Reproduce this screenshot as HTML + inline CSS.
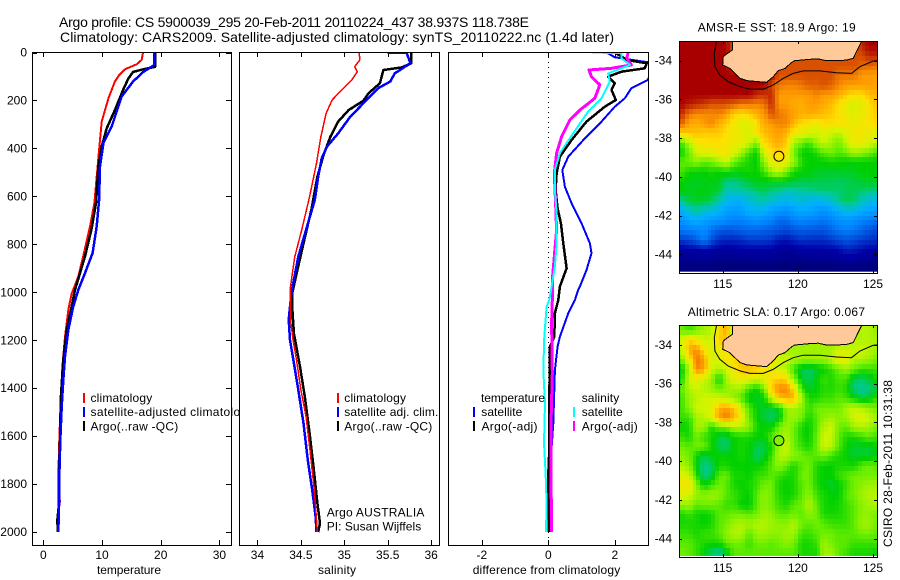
<!DOCTYPE html>
<html>
<head>
<meta charset="utf-8">
<title>Argo profile 5900039_295</title>
<style>
html,body{margin:0;padding:0;background:#fff;}
svg{display:block;}
text{font-family:"Liberation Sans",sans-serif;font-size:12px;fill:#000;}
.ttl{font-size:14px;}
.mt{font-size:12px;}
</style>
</head>
<body>
<svg id="chart" xmlns="http://www.w3.org/2000/svg" width="900" height="580" viewBox="0 0 900 580">
<defs>
<clipPath id="clip-temp"><rect x="32" y="52" width="199" height="493"/></clipPath>
<clipPath id="clip-sal"><rect x="239" y="52" width="200" height="493"/></clipPath>
<clipPath id="clip-diff"><rect x="448" y="52" width="200" height="493"/></clipPath>
<clipPath id="clip-map1"><rect x="679" y="41" width="198" height="232"/></clipPath>
<clipPath id="clip-map2"><rect x="679" y="325" width="198" height="232"/></clipPath>
</defs>
<rect x="0" y="0" width="900" height="580" fill="#fff"/>
<text class="ttl" x="59" y="27" textLength="470" lengthAdjust="spacing">Argo profile: CS 5900039_295 20-Feb-2011 20110224_437 38.937S 118.738E</text>
<text class="ttl" x="60" y="42" textLength="554" lengthAdjust="spacing">Climatology: CARS2009. Satellite-adjusted climatology: synTS_20110222.nc (1.4d later)</text>

<g id="panel-temp"></g>
<g>
<rect x="83" y="393" width="2" height="10" fill="#f00"/>
<rect x="83" y="407" width="2" height="10" fill="#00f"/>
<rect x="83" y="421" width="2" height="10" fill="#000"/>
<text x="90.5" y="402" textLength="61.7" lengthAdjust="spacing">climatology</text>
<text x="90.5" y="416" textLength="163" lengthAdjust="spacing">satellite-adjusted climatology</text>
<text x="90.5" y="430.5" textLength="87.7" lengthAdjust="spacing">Argo(..raw -QC)</text>
</g>
<text x="97" y="574" textLength="64" lengthAdjust="spacing">temperature</text>

<g id="panel-sal"></g>
<g>
<rect x="337" y="393" width="2" height="10" fill="#f00"/>
<rect x="337" y="407" width="2" height="10" fill="#00f"/>
<rect x="337" y="421" width="2" height="10" fill="#000"/>
<text x="344.3" y="402" textLength="61.7" lengthAdjust="spacing">climatology</text>
<text x="344.3" y="416" textLength="94" lengthAdjust="spacing">satellite adj. clim.</text>
<text x="344.3" y="430.5" textLength="88" lengthAdjust="spacing">Argo(..raw -QC)</text>
<text x="326.7" y="516.5" textLength="97.7" lengthAdjust="spacing">Argo AUSTRALIA</text>
<text x="326.7" y="530.5" textLength="94.5" lengthAdjust="spacing">PI: Susan Wijffels</text>
</g>
<text x="318" y="574" textLength="38" lengthAdjust="spacing">salinity</text>

<g id="panel-diff"></g>
<g>
<rect x="473" y="407" width="2" height="10" fill="#00f"/>
<rect x="473" y="421" width="2" height="10" fill="#000"/>
<rect x="573" y="407" width="2" height="10" fill="#0ff"/>
<rect x="573" y="421" width="2" height="10" fill="#f0f"/>
<text x="481" y="402" textLength="64" lengthAdjust="spacing">temperature</text>
<text x="481.3" y="416" textLength="41" lengthAdjust="spacing">satellite</text>
<text x="481.5" y="430.5" textLength="56" lengthAdjust="spacing">Argo(-adj)</text>
<text x="581.7" y="402" textLength="37.5" lengthAdjust="spacing">salinity</text>
<text x="581.7" y="416" textLength="41" lengthAdjust="spacing">satellite</text>
<text x="581.7" y="430.5" textLength="56" lengthAdjust="spacing">Argo(-adj)</text>
</g>
<text x="472.7" y="574" textLength="147.5" lengthAdjust="spacing">difference from climatology</text>

<text class="mt" x="697.7" y="31.5" textLength="158" lengthAdjust="spacing">AMSR-E SST: 18.9 Argo: 19</text>
<g id="map-sst"></g>
<text class="mt" x="687.7" y="316" textLength="177.3" lengthAdjust="spacing">Altimetric SLA: 0.17 Argo: 0.067</text>
<g id="map-sla"></g>
<text transform="translate(892 547) rotate(-90)" textLength="167" lengthAdjust="spacing">CSIRO 28-Feb-2011 10:31:38</text>
</svg>

<script>
// ---------- profile data ----------
const depthTicks = [0,200,400,600,800,1000,1200,1400,1600,1800,2000];
const tempTicks = [0,10,20,30];
const salTicks = [34,34.5,35,35.5,36];
const salTickLabels = ['34','34.5','35','35.5','36'];
const diffTicks = [-2,0,2];

const tempClimDepth = [0,31,49,70,93,121,190,288,392,517,628,725,850,934,990,1004,1074,1185,1310,1449,1616,1769,1860,1870,1949,2000];
const tempClimValue = [16.98,16.76,15.9,13.9,12.96,12.2,11.1,9.95,9.55,9.1,8.7,7.96,6.8,5.96,5.1,4.83,4.26,3.7,3.25,2.96,2.73,2.56,2.56,2.84,2.4,2.56];
const tempSatDepth = [0,53,81,121,183,308,378,475,614,725,836,920,990,1004,1060,1157,1268,1365,1477,1616,1769,1894,2000];
const tempSatValue = [18.86,18.86,17.04,15.3,13.35,11.65,10.24,9.66,9.5,9.1,8.4,7.1,5.96,5.8,5.1,4.26,3.7,3.4,3.13,2.9,2.73,2.67,2.56];
const tempArgoDepth = [0,60,70,81,108,156,240,316,392,475,628,739,850,990,1074,1157,1281,1435,1616,1769,1894,1949,2000];
const tempArgoValue = [19.03,19.03,17.04,15.3,14.5,13.6,12.2,10.8,9.95,9.38,8.98,8.2,7.1,5.4,4.7,3.98,3.4,3.0,2.84,2.62,2.62,2.4,2.45];

const salClimDepth = [0,31,59,80,115,156,198,254,351,462,601,740,851,990,1004,1129,1199,1282,1407,1519,1658,1824,2000];
const salClimValue = [35.17,35.18,35.12,35.15,35.085,34.97,34.86,34.79,34.73,34.68,34.6,34.51,34.43,34.375,34.375,34.385,34.41,34.45,34.5,34.56,34.605,34.655,34.69];
const salSatDepth = [1,2,45,87,121,149,212,267,337,393,441,518,615,726,851,1004,1115,1199,1295,1407,1546,1700,1824,1935,2000];
const salSatValue = [35.5,35.72,35.76,35.58,35.53,35.39,35.22,35.07,34.93,34.8,34.74,34.7,34.66,34.57,34.47,34.39,34.36,34.375,34.42,34.47,34.53,34.58,34.63,34.67,34.68];
const salArgoDepth = [0,45,62,73,128,170,201,240,288,351,428,518,657,796,907,1004,1060,1171,1310,1435,1588,1727,1880,1963,2000];
const salArgoValue = [35.77,35.77,35.66,35.45,35.41,35.28,35.22,35.05,34.93,34.84,34.76,34.69,34.62,34.53,34.46,34.4,34.4,34.42,34.49,34.545,34.6,34.645,34.69,34.72,34.7];

const diffTempSatDepth = [0,20,45,115,149,191,226,288,358,434,490,560,629,712,796,837,907,976,990,1032,1087,1185,1226,1324,1546,1686,1824,2000];
const diffTempSatValue = [1.75,2.0,3.2,2.99,2.5,2.3,2.0,1.6,1.1,0.6,0.42,0.5,0.7,1.0,1.25,1.3,1.15,0.95,0.9,0.8,0.6,0.35,0.28,0.2,0.15,0.08,0.02,0.05];
const diffTempArgoDepth = [0,31,45,66,80,101,128,156,198,226,288,365,434,504,573,650,712,796,900,976,1032,1087,1185,1226,1546,1686,1839,2000];
const diffTempArgoValue = [2.0,2.36,2.96,2.9,2.2,1.8,2.0,1.9,2.03,1.7,1.15,0.7,0.35,0.25,0.22,0.28,0.38,0.45,0.55,0.35,0.3,0.2,0.18,0.05,0.02,0.02,-0.02,0.02];
const diffSalSatDepth = [0,3,24,52,87,121,191,246,337,420,490,573,671,796,893,990,1032,1060,1185,1324,1463,1630,1755,1880,2000];
const diffSalSatValue = [1.32,2.2,2.2,2.46,1.8,1.85,1.6,1.2,0.75,0.35,0.2,0.2,0.25,0.25,0.2,0.08,0.03,-0.05,-0.12,-0.15,-0.1,-0.13,-0.08,-0.05,-0.07];
const diffSalArgoDepth = [0,24,52,66,73,101,135,191,240,281,351,420,504,629,740,851,948,1032,1129,1338,1546,1755,2000];
const diffSalArgoValue = [2.4,2.36,2.5,1.9,1.22,1.3,1.55,1.4,0.95,0.65,0.4,0.25,0.18,0.22,0.25,0.18,0.12,0.12,0.1,0.12,0.08,0.08,0.1];

// ---------- map data (0.5 degree cells) ----------
const mapLonCenters = [112.25,112.75,113.25,113.75,114.25,114.75,115.25,115.75,116.25,116.75,117.25,117.75,118.25,118.75,119.25,119.75,120.25,120.75,121.25,121.75,122.25,122.75,123.25,123.75,124.25,124.75,125.25];
const mapLatCenters = [33.25,33.75,34.25,34.75,35.25,35.75,36.25,36.75,37.25,37.75,38.25,38.75,39.25,39.75,40.25,40.75,41.25,41.75,42.25,42.75,43.25,43.75,44.25,44.75];
const lonTicks = [115,120,125];
const latTicks = [34,36,38,40,42,44];
const argoLon = 118.74;
const argoLat = 38.94;
const argoSst = 19;
const argoSlaCm = 6.7;

const sstRows = [
[22,22,22,22,22,22,22,21,21,21,21,21,21,21,21,21,21,21,21,21,21,21,21,21,21.5,22,22],
[22,22,22,22,22,22,22,21,21,21,21,21,21,21,21,21,21,21,21,21,21,21,21,21,21,21.5,21.5],
[22,22,22,22,22,22,22,21,21,21,21,21,21,21,21,21,21,21,21,21,21,21,21,21,20.7,20.7,20.5],
[22,22,22,22,22,22,22,22,22,22,22,22,22,21,21,21,21,21,21,21,21,20.5,20.5,20.5,20,20,20],
[22,22,22,22,22,22,22,22,22,22,22,22,21,20.5,20.3,20.3,20.5,20.8,20.8,21,20.7,20.3,20,20,20,20,20],
[22,22,22,22,22,22,22,22,22,22,21.5,21.3,21.5,20,20,20,20,20,20.3,20,20,19.7,19.3,19,19,19.5,19.7],
[22,21.7,21.5,21.3,21,21,21,20.8,20.5,20.5,20.3,20.5,21.5,20,20,19.8,19.7,20,20,19.8,19.5,19,18.4,18.2,18.3,19,19.5],
[21.5,20.5,20.2,20.2,20.2,20.3,20,19.2,19,19.3,19.7,20,21,20.5,20.2,20,19.7,19.8,19.7,19.5,19.3,19,18.5,18.3,18.5,19,19.3],
[20.8,19.8,19.7,20,20.3,19.7,19.3,18.8,18.3,18.2,19,19.8,20,20.3,20.3,19.6,19,18.8,18.5,19,19,19,18.8,18.5,18.7,19,19],
[19.2,19.5,19.5,19.3,19.3,19.3,19,18.7,18.4,18.2,19,19.5,19.8,20,19.6,18.8,18.4,18.3,18,18.3,17.9,17.8,18.2,18.7,18.8,18.5,18.3],
[16.5,17.7,18.7,18.9,19,19,18.8,18.7,18.5,18,17,19,19.5,19.8,19.2,17.5,17,16.5,17.5,17.9,17.5,17,18,18.5,18.5,18.2,17.7],
[16,17,18,18.3,18.3,18.7,18.7,18.2,17.5,16.5,16,18,19,19.3,18.8,17,16,16,16.3,16.8,17,16.7,17,17.5,17.3,17,16.5],
[16.8,17,17.3,16.9,17,17.5,18,17,16.5,16.2,16,17.3,18.5,18.7,18.3,17.5,16.3,16,16,16,16.2,16.1,16,16,16,16,16],
[16.7,16.1,16,16,16.2,16,16.2,16,16,16.2,16,16.5,17.5,17.8,17,16.2,16,16,15.8,15.8,15.7,15.8,15.8,15.8,16,16,16],
[16,15.8,15.8,15.8,15.9,15.8,15.2,15.2,15.4,15.7,15.9,15.8,15.8,15.8,15.8,15.7,15.5,15.6,15.5,15.5,15.5,15.4,15.5,15.6,15.7,15.8,15.8],
[16,15.8,15.9,16,15.8,15.7,14.7,14.8,14.9,15,15.3,15.5,15.2,15,14.7,14.7,15,15,15.2,15.3,15.3,15.3,15.5,15.5,15.3,15.2,15],
[15,15.7,15.7,15.7,15.5,14.7,14.3,14,14,14.4,14.7,14.8,14.5,14.2,14.1,14.3,14.4,14.2,14.1,14.2,14.5,15.2,15.5,15.4,14.8,14.3,14.2],
[13.9,14.5,15,14.5,14.3,14,13.6,13.5,13.6,14,14.1,14,13.6,13.4,13.2,13.6,13.8,13.8,13.5,13.3,13.6,14,14.3,14.2,13.9,13.7,13.6],
[13.3,13.8,14,13.7,13.5,13.4,13.2,13,13,13.2,13.4,13.2,13,12.6,12.6,13,13.1,13,12.9,12.8,13,13.3,13.4,13.3,13,12.9,12.7],
[12.8,12.9,13,13.2,12.7,12.3,12.2,12.3,12.4,12.5,12.5,12.4,12.3,12.2,12,12.2,12.3,12.3,12.2,12.2,12.5,12.8,12.9,12.8,12.5,12.2,12],
[11.8,12,12.3,12.9,12.2,11.6,11.5,11.5,11.6,11.8,11.8,11.8,11.7,11.3,11.2,11.5,11.7,11.6,11.6,11.6,11.8,12,12.2,12,11.8,11.7,11.6],
[10.8,11,11,11.2,11,10.9,10.8,10.9,11,11,11,11,11,10.8,10.7,10.8,10.9,11,11,11,11,11.2,11.5,11.4,11.2,11,11],
[10.5,10.5,10.5,10.6,10.5,10.4,10.4,10.4,10.5,10.5,10.5,10.5,10.5,10.4,10.4,10.4,10.4,10.5,10.5,10.5,10.5,10.6,10.8,10.8,10.6,10.5,10.5],
[10.1,10.1,10.1,10.1,10.1,10,10,10,10,10,10,10,10,10,10,10,10,10,10,10,10,10.1,10.1,10.1,10.1,10.1,10.1]
];

const slaCmRows = [
[5,0,5,10,12,25,35,10,10,10,10,10,10,10,10,10,10,10,10,10,10,10,10,10,12,12,8],
[15,28,22,15,15,28,30,10,10,10,10,10,10,10,10,10,10,10,10,10,10,10,10,12,12,12,10],
[12,33,38,25,15,22,25,10,10,10,10,10,10,10,10,10,10,10,10,10,10,15,14,14,15,12,10],
[5,22,40,35,15,18,22,28,28,20,20,20,20,15,15,12,10,10,10,10,15,22,20,12,12,10,5],
[-8,12,38,35,15,12,14,22,30,32,30,25,20,15,10,0,-10,-12,-8,-5,0,5,10,5,0,0,0],
[-5,15,20,15,10,-5,10,18,20,18,15,18,25,28,25,8,-8,-10,-5,0,-3,2,0,-10,-12,-8,-3],
[3,12,15,12,10,5,8,10,10,0,-5,5,28,38,38,25,0,-8,-5,-2,-2,0,-3,-12,-15,-13,-8],
[0,10,12,15,15,15,12,8,3,-6,-8,-5,15,30,33,33,10,-3,-3,0,0,3,0,-5,-10,-8,0],
[0,8,15,15,18,32,35,30,15,2,-5,-8,-8,-5,10,10,8,0,5,5,5,5,12,14,12,8,5],
[0,0,10,12,18,35,40,32,20,5,-5,-8,-12,-8,8,10,5,-3,3,8,10,8,10,15,18,15,10],
[-5,-3,10,10,-3,5,5,12,12,8,-3,-5,-5,5,10,5,-3,-5,3,12,15,5,3,10,12,10,5],
[0,-3,5,0,-3,-10,-10,-5,-3,-3,-5,-5,3,8,12,5,-3,-5,5,15,14,3,-3,-3,0,3,0],
[5,3,5,5,-3,-10,-12,-5,-3,-5,-10,-10,-3,10,15,5,0,-3,5,15,12,2,-5,-8,-8,-8,-5],
[8,5,-3,-10,-5,-5,-5,-5,-3,-5,-12,-8,0,12,12,8,5,3,3,5,0,-3,-5,-8,-8,-8,-5],
[12,8,-5,-14,-12,-3,-3,-5,-5,-5,-5,-3,3,8,3,-3,3,5,-3,-5,-5,-3,-3,-3,3,5,3],
[18,15,0,-14,-10,3,5,-3,-3,-5,0,0,3,0,-3,-3,5,5,-3,-5,-5,0,3,5,5,5,5],
[22,22,8,-5,0,5,3,-3,-5,-3,0,5,5,-3,-5,-3,3,5,-3,-5,-8,-5,0,5,8,10,10],
[18,15,10,8,10,8,3,0,-3,-5,3,8,5,-2,-5,-3,3,8,0,-3,-5,-5,3,5,10,12,12],
[8,10,3,5,5,3,0,0,-5,-6,3,8,5,0,-3,3,5,12,3,-3,-5,-3,0,3,8,10,12],
[-3,0,-3,-5,-3,3,3,5,5,3,5,10,8,3,3,5,3,8,5,-3,-3,-3,0,3,8,8,5],
[-3,-3,-3,-5,-3,3,5,10,12,10,12,12,10,8,8,12,5,3,5,3,0,0,0,3,10,10,5],
[0,0,-3,0,0,3,8,12,12,3,10,10,8,8,10,10,0,0,3,5,5,3,3,3,5,5,3],
[3,3,0,-3,-3,-3,3,5,5,0,5,5,3,5,8,5,-3,-3,0,10,5,3,3,0,0,0,0],
[5,3,0,-5,-12,-15,-8,3,3,3,3,3,3,3,3,3,-3,-3,-3,10,10,3,0,-3,-3,-3,-5]
];

const coastLon = [115.64,115.64,115.26,115.04,115.0,115.48,115.81,116.15,116.6,117.47,117.92,118.36,118.7,119.14,119.58,119.8,120.8,121.35,121.9,122.57,123.24,123.68,123.9,124.24];
const coastLat = [33,33.45,33.66,33.79,34.22,34.4,34.66,34.91,35.03,35.09,35.12,34.83,34.52,34.4,34.1,34.0,33.93,33.91,34.0,34.0,33.97,33.88,33.53,33];
const shelfLon = [114.59,114.44,114.48,114.81,115.37,116.15,116.81,117.7,118.36,119.03,119.69,120.36,121.47,122.57,123.57,124.13,125.01,125.28];
const shelfLat = [33,33.62,34.31,34.74,35.09,35.34,35.47,35.47,35.26,34.91,34.66,34.53,34.53,34.62,34.66,34.31,34.02,34.0];

// ---------- colour scale ----------
const paletteStops = ['#000078','#0000a8','#0048d8','#0084ff','#00b0ff','#00c8a0','#00d000','#70f000','#d0f500','#ffe000','#ff9c00','#d85000','#a80000'];
const paletteBase = 10;

const NS = 'http://www.w3.org/2000/svg';
function hex(c){return [parseInt(c.slice(1,3),16),parseInt(c.slice(3,5),16),parseInt(c.slice(5,7),16)];}
function paletteColor(level){
  let t = Math.max(0, Math.min(paletteStops.length-1.001, level-paletteBase));
  const i = Math.floor(t), f = t-i;
  const a = hex(paletteStops[i]), b = hex(paletteStops[i+1]);
  return 'rgb('+[0,1,2].map(k=>Math.round(a[k]+(b[k]-a[k])*f)).join(',')+')';
}
function sstLevel(v){return v;}
function slaLevel(cm){return 16.5+cm/10;}

function make(parent,tag,attrs,txt){
  const e=document.createElementNS(NS,tag);
  for(const k in attrs){e.setAttribute(k,attrs[k]);}
  if(txt!==undefined){e.textContent=txt;}
  parent.appendChild(e);
  return e;
}

// ---------- axis scales ----------
const depthY = d => 52.5 + d*0.2398;
const tempX = t => 43.3 + t*5.87;
const salX = s => 344.3 + (s-35)*86.85;
const diffX = v => 548.3 + v*33.25;
const mapX = lon => 722.7 + (lon-115)*15.03;
const map1Y = lat => 41.3 + (lat-33)*19.36;
const map2Y = lat => 325.6 + (lat-33)*19.36;

function drawProfile(g,clipId,xs,depths,values,color,width,name){
  const pts=depths.map((d,i)=>xs(values[i]).toFixed(1)+','+depthY(d).toFixed(1)).join(' ');
  const p=make(g,'polyline',{points:pts,fill:'none',stroke:color,'stroke-width':width,'clip-path':'url(#'+clipId+')','shape-rendering':'crispEdges','stroke-linejoin':'round'});
  
  
}

function drawFrame(g,x0,x1,y0,y1,xs,ticks,labels){
  const bg=make(g,'rect',{x:x0,y:y0,width:x1-x0,height:y1-y0,fill:'#fff'});
  
  
  ticks.forEach((t,i)=>{
    const x=Math.round(xs(t))+0.5;
    const a=make(g,'line',{x1:x,x2:x,y1:y0,y2:y0+5,stroke:'#000','stroke-width':1});
    
    
    const b=make(g,'line',{x1:x,x2:x,y1:y1,y2:y1-5,stroke:'#000','stroke-width':1});
    
    
    const l=make(g,'text',{x:xs(t),y:559,'text-anchor':'middle'},labels[i]);
    
    
  });
}
function drawBorder(g,x0,x1,y0,y1){
  const r=make(g,'rect',{x:x0+0.5,y:y0+0.5,width:x1-x0,height:y1-y0,fill:'none',stroke:'#000','stroke-width':1,'shape-rendering':'crispEdges'});
  
  
}

// ---------- temperature panel ----------
const gT=document.getElementById('panel-temp');
drawFrame(gT,32,231,52,545,tempX,tempTicks,tempTicks.map(String));
depthTicks.forEach(d=>{
  const y=Math.round(depthY(d))+0.5;
  const a=make(gT,'line',{x1:32,x2:37,y1:y,y2:y,stroke:'#000','stroke-width':1});
  
  
  const b=make(gT,'line',{x1:231,x2:226,y1:y,y2:y,stroke:'#000','stroke-width':1});
  
  
  const l=make(gT,'text',{x:27,y:depthY(d)+4,'text-anchor':'end'},String(d));
  
  
});
drawProfile(gT,'clip-temp',tempX,tempClimDepth,tempClimValue,'#f00',2,'temperature-climatology-line');
drawProfile(gT,'clip-temp',tempX,tempArgoDepth,tempArgoValue,'#000',2.5,'temperature-argo-line');
drawProfile(gT,'clip-temp',tempX,tempSatDepth,tempSatValue,'#00f',2.5,'temperature-satellite-line');
drawBorder(gT,32,231,52,545);

// ---------- salinity panel ----------
const gS=document.getElementById('panel-sal');
drawFrame(gS,239,439,52,545,salX,salTicks,salTickLabels);
drawProfile(gS,'clip-sal',salX,salArgoDepth,salArgoValue,'#000',2.5,'salinity-argo-line');
drawProfile(gS,'clip-sal',salX,salSatDepth,salSatValue,'#00f',2.5,'salinity-satellite-line');
drawProfile(gS,'clip-sal',salX,salClimDepth,salClimValue,'#f00',1.5,'salinity-climatology-line');
drawBorder(gS,239,439,52,545);

// ---------- difference panel ----------
const gD=document.getElementById('panel-diff');
drawFrame(gD,448,648,52,545,diffX,diffTicks,diffTicks.map(String));
const zeroLine=make(gD,'line',{x1:diffX(0),x2:diffX(0),y1:52,y2:545,stroke:'#000','stroke-width':1,'stroke-dasharray':'1 4','shape-rendering':'crispEdges'});


drawProfile(gD,'clip-diff',diffX,diffTempSatDepth,diffTempSatValue,'#00f',2,'difference-temperature-satellite-line');
drawProfile(gD,'clip-diff',diffX,diffTempArgoDepth,diffTempArgoValue,'#000',2.5,'difference-temperature-argo-line');
drawProfile(gD,'clip-diff',diffX,diffSalArgoDepth,diffSalArgoValue,'#f0f',3,'difference-salinity-argo-line');
drawProfile(gD,'clip-diff',diffX,diffSalSatDepth,diffSalSatValue,'#0ff',2,'difference-salinity-satellite-line');
drawBorder(gD,448,648,52,545);

// ---------- maps ----------
// Each half-degree value is shaded over a quarter-degree pixel block, like the source's smoothed field.
function shadeAt(rows,rf,cf){
  const r=Math.max(0,Math.min(rows.length-1,rf)), c=Math.max(0,Math.min(rows[0].length-1,cf));
  const r0=Math.floor(r), c0=Math.floor(c);
  const r1=Math.min(rows.length-1,r0+1), c1=Math.min(rows[0].length-1,c0+1);
  const fr=r-r0, fc=c-c0;
  return (rows[r0][c0]*(1-fc)+rows[r0][c1]*fc)*(1-fr)+(rows[r1][c0]*(1-fc)+rows[r1][c1]*fc)*fr;
}
function drawMap(g,ys,rows,levelFn,argoValue,x0,x1,y0,y1,clipId,prefix){
  rows.forEach((row,r)=>{
    row.forEach((v,c)=>{
      [0,1].forEach(sr=>{
        [0,1].forEach(sc=>{
          const lat0=mapLatCenters[r]-0.25+sr*0.25, lon0=mapLonCenters[c]-0.25+sc*0.25;
          const top=Math.round(ys(lat0)), bot=Math.round(ys(lat0+0.25));
          const l=Math.round(mapX(lon0)), rr=Math.round(mapX(lon0+0.25));
          const shade=shadeAt(rows,r+(sr-0.5)*0.5,c+(sc-0.5)*0.5);
          const cell=make(g,'rect',{x:l,y:top,width:rr-l,height:bot-top,fill:paletteColor(levelFn(shade)),'clip-path':'url(#'+clipId+')','shape-rendering':'crispEdges'});
          
          
        });
      });
    });
  });
  const strip=make(g,'rect',{x:x0,y:ys(44.9),width:x1-x0,height:y1-ys(44.9)+1,fill:'#fff'});
  
  
  const land=make(g,'polygon',{points:coastLon.map((lon,i)=>mapX(lon).toFixed(1)+','+ys(coastLat[i]).toFixed(1)).join(' '),fill:'#ffc999','clip-path':'url(#'+clipId+')'});
  
  
  const coast=make(g,'polyline',{points:coastLon.map((lon,i)=>mapX(lon).toFixed(1)+','+ys(coastLat[i]).toFixed(1)).join(' '),fill:'none',stroke:'#000','stroke-width':1,'clip-path':'url(#'+clipId+')','shape-rendering':'crispEdges'});
  
  
  const shelf=make(g,'polyline',{points:shelfLon.map((lon,i)=>mapX(lon).toFixed(1)+','+ys(shelfLat[i]).toFixed(1)).join(' '),fill:'none',stroke:'#000','stroke-width':1,'clip-path':'url(#'+clipId+')'});
  
  
  const marker=make(g,'circle',{cx:mapX(argoLon),cy:ys(argoLat),r:5,fill:paletteColor(levelFn(argoValue)),stroke:'#000','stroke-width':1});
  
  
  drawBorder(g,x0,x1,y0,y1);
  lonTicks.forEach(t=>{
    const x=Math.round(mapX(t))+0.5;
    const a=make(g,'line',{x1:x,x2:x,y1:y1,y2:y1-3,stroke:'#000','stroke-width':1});
    
    
    const b=make(g,'line',{x1:x,x2:x,y1:y0,y2:y0+3,stroke:'#000','stroke-width':1});
    
    
    const l=make(g,'text',{x:mapX(t),y:y1+15,'text-anchor':'middle'},String(t));
    
    
  });
  latTicks.forEach(t=>{
    const y=Math.round(ys(t))+0.5;
    const a=make(g,'line',{x1:x0,x2:x0+3,y1:y,y2:y,stroke:'#000','stroke-width':1});
    
    
    const b=make(g,'line',{x1:x1,x2:x1-3,y1:y,y2:y,stroke:'#000','stroke-width':1});
    
    
    const l=make(g,'text',{x:672,y:ys(t)+4,'text-anchor':'end'},'-'+t);
    
    
  });
}
drawMap(document.getElementById('map-sst'),map1Y,sstRows,sstLevel,argoSst,679,877,41,273,'clip-map1','sst');
drawMap(document.getElementById('map-sla'),map2Y,slaCmRows,slaLevel,argoSlaCm,679,877,325,557,'clip-map2','sla');
</script>
</body>
</html>
